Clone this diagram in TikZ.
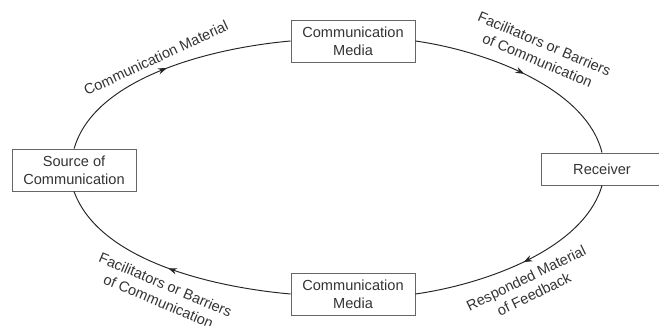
\documentclass[tikz,border=0pt]{standalone}
\usepackage{fontspec}
\setmainfont{Liberation Sans}
\usetikzlibrary{decorations.markings,arrows.meta}

\begin{document}
\begin{tikzpicture}[scale=0.2]
	\tikzstyle{every node}+=[inner sep=0pt, text=black!80, font=\fontsize{8.3}{10.2}\selectfont]
	\tikzstyle{box}=[draw=black!60, line width=0.5pt, rectangle, minimum width=2.48cm, minimum height=0.84cm, align=center]
	\tikzstyle{flow}=[black!85, line width=0.55pt, looseness=0.8, postaction={decorate}, decoration={markings, mark=at position 0.5 with {\arrow{Stealth[length=5pt,width=3.6pt]}}}]
	\useasboundingbox (0,0) rectangle (65.9,-32.5);
	\node [box] (source) at (7.4,-17) {Source of\\Communication};
	\node [box] (topmedia) at (35.3,-4.1) {Communication\\Media};
	\node [box] (botmedia) at (35.3,-29.4) {Communication\\Media};
	\node [box, minimum width=2.44cm, minimum height=0.64cm] (receiver) at (60.2,-16.9) {Receiver};
	\draw [flow] ([xshift=0.4]source.north) to [out=74, in=185] (topmedia.west);
	\draw [flow] (topmedia.east) to [out=-8, in=104] (receiver.north);
	\draw [flow] (receiver.south) to [out=-106, in=8] (botmedia.east);
	\draw [flow] (botmedia.west) to [out=175, in=-70] (source.south);
	\node [rotate=25] (material) at (15.6,-5.8) {Communication Material};
	\node [rotate=-23, align=center] (barrierstop) at (54.1,-5.2) {Facilitators or Barriers\\of Communication};
	\node [rotate=-23, align=center] (barriersbot) at (16.2,-29.3) {Facilitators or Barriers\\of Communication};
	\node [rotate=26, align=center] (feedback) at (53,-28.6) {Responded Material\\of Feedback};
\end{tikzpicture}
\end{document}
